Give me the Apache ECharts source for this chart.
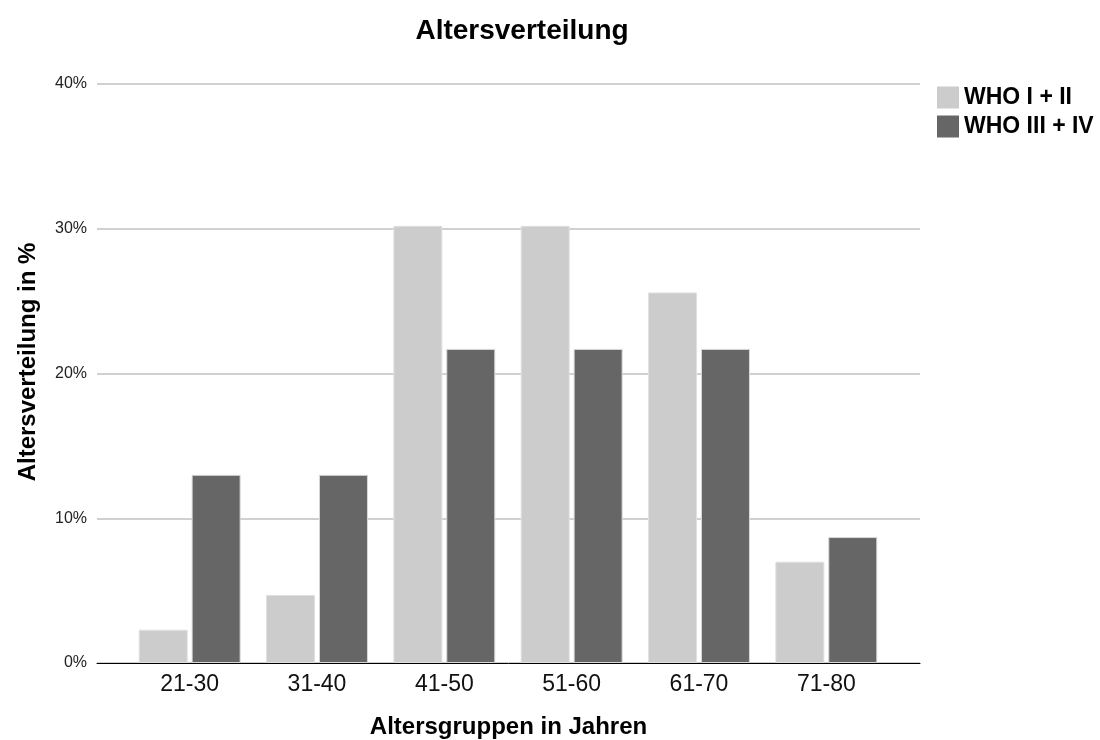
<!DOCTYPE html>
<html>
<head>
<meta charset="utf-8">
<script src="https://cdn.jsdelivr.net/npm/echarts@6/dist/echarts.min.js"></script>
<style>
html,body{margin:0;padding:0;background:#fff;}
#c{width:1100px;height:740px;}
</style>
</head>
<body>
<div id="c"></div>
<script>
const categories = ['21-30', '31-40', '41-50', '51-60', '61-70', '71-80'];
const seriesNames = ['WHO I + II', 'WHO III + IV'];
const whoI_II = [2.3, 4.7, 30.2, 30.2, 25.6, 7.0];
const whoIII_IV = [13.0, 13.0, 21.7, 21.7, 21.7, 8.7];
const yTicks = [0, 10, 20, 30, 40];

const font = '"Liberation Sans", Arial, sans-serif';
const chart = echarts.init(document.getElementById('c'));
chart.setOption({
  animation: false,
  backgroundColor: '#ffffff',
  title: {
    text: 'Altersverteilung',
    left: 517, top: 12, textAlign: 'center',
    textStyle: { fontFamily: font, fontSize: 28, fontWeight: 'bold', color: '#000' }
  },
  legend: {
    orient: 'vertical', left: 937, top: 86, padding: 0,
    itemWidth: 22, itemHeight: 22, itemGap: 6,
    icon: 'rect',
    itemStyle: { borderWidth: 0 },
    data: seriesNames,
    textStyle: { fontFamily: font, fontSize: 23, fontWeight: 'bold', color: '#000', lineHeight: 22 }
  },
  graphic: [{
    type: 'text', x: 28, y: 362, rotation: Math.PI / 2,
    style: {
      text: 'Altersverteilung in %', fill: '#000',
      font: 'bold 24px "Liberation Sans", Arial, sans-serif',
      textAlign: 'center', textVerticalAlign: 'middle'
    }
  }],
  grid: [
    { left: 97, right: 180, top: 84, bottom: 77, outerBoundsMode: 'none', containLabel: false },
    { left: 126, right: 210, top: 84, bottom: 77, outerBoundsMode: 'none', containLabel: false }
  ],
  xAxis: [
    {
      type: 'category', gridIndex: 0, data: categories,
      axisLine: { lineStyle: { color: '#000', width: 1 } },
      axisTick: { show: false }, axisLabel: { show: false },
      name: 'Altersgruppen in Jahren', nameLocation: 'middle', nameGap: 52,
      nameTextStyle: { fontFamily: font, fontSize: 24, fontWeight: 'bold', color: '#000' }
    },
    {
      type: 'category', gridIndex: 1, data: categories,
      axisLine: { show: false }, axisTick: { show: false },
      axisLabel: { margin: 10, fontFamily: font, fontSize: 23, color: '#111' }
    }
  ],
  yAxis: [
    {
      type: 'value', gridIndex: 0, min: yTicks[0], max: yTicks[yTicks.length - 1], interval: 10,
      axisLine: { show: false }, axisTick: { show: false },
      splitLine: { lineStyle: { color: '#c0c0c0', width: 1.5 } },
      axisLabel: { margin: 10, fontFamily: font, fontSize: 16, color: '#222', formatter: '{value}%', padding: [4, 0, 0, 0] }
    },
    {
      type: 'value', gridIndex: 1, min: yTicks[0], max: yTicks[yTicks.length - 1], interval: 10,
      show: false, splitLine: { show: false }
    }
  ],
  series: [
    {
      name: seriesNames[0], type: 'bar', xAxisIndex: 1, yAxisIndex: 1,
      data: whoI_II, barWidth: 49, barGap: '8%',
      itemStyle: { color: '#cccccc', borderColor: '#e0e0e0', borderWidth: 1 }
    },
    {
      name: seriesNames[1], type: 'bar', xAxisIndex: 1, yAxisIndex: 1,
      data: whoIII_IV, barWidth: 49, barGap: '8%',
      itemStyle: { color: '#666666', borderColor: '#d8d8d8', borderWidth: 1 }
    }
  ]
});
</script>
</body>
</html>
